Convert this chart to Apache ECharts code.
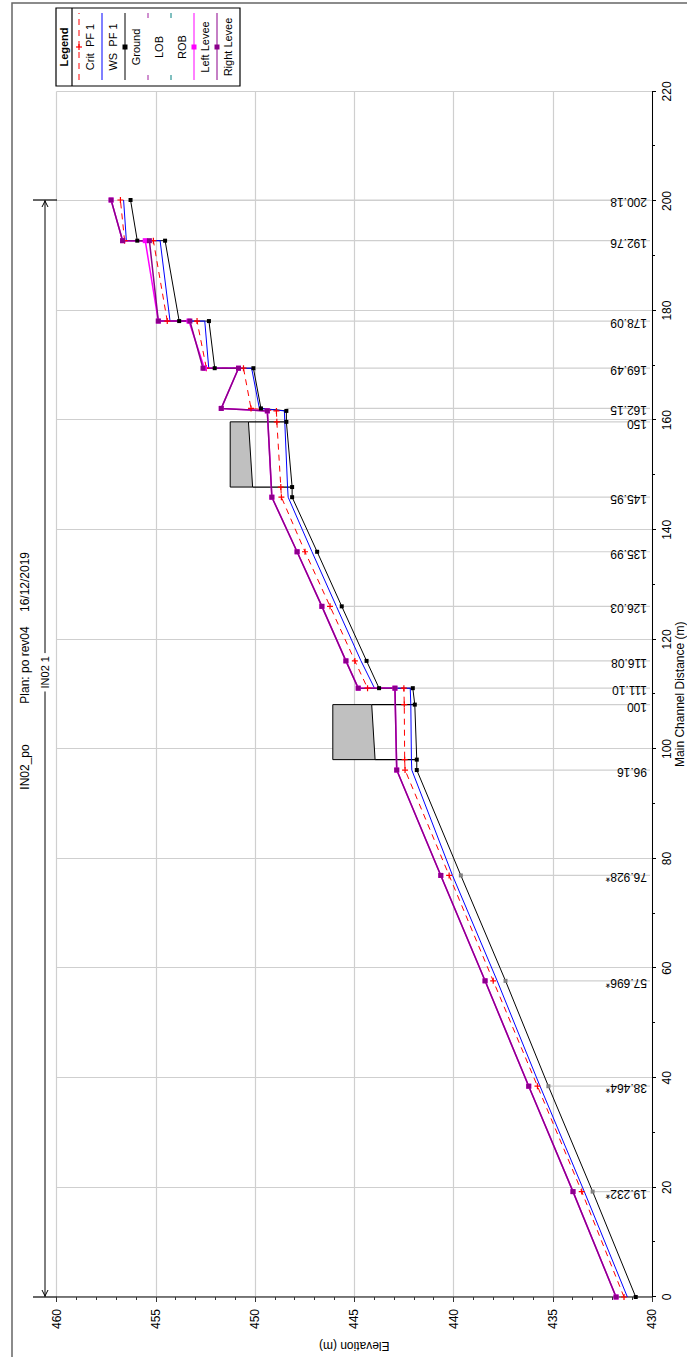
<!DOCTYPE html>
<html>
<head>
<meta charset="utf-8">
<title>IN02_po profile</title>
<script src="https://cdn.jsdelivr.net/npm/echarts@6/dist/echarts.min.js"></script>
<style>
  html, body { margin: 0; padding: 0; background: #fff; width: 687px; height: 1357px; overflow: hidden; }
  /* the profile is laid out landscape and turned a quarter turn to fit the portrait page */
  #page { position: absolute; left: 0; top: 0; width: 1357px; height: 687px;
          transform-origin: 0 0; transform: translate(0, 1357px) rotate(-90deg); background: #fff; }
</style>
</head>
<body>
<div id="page"></div>
<script>
// ---- profile data (main channel distance in m, elevations in m) ----
const dist = [0, 19.232, 38.464, 57.696, 76.928, 96.16, 98.06, 108.1, 111.1, 111.1,
              116.08, 126.03, 135.99, 145.95, 147.8, 159.7, 161.7, 162.15, 169.49, 169.49,
              178.09, 178.09, 192.76, 192.76, 200.18];
const ground = [430.82, 432.99, 435.22, 437.38, 439.63, 441.85, 441.85, 441.95, 442.05, 443.75,
                444.38, 445.63, 446.87, 448.13, 448.13, 448.42, 448.42, 449.70, 450.08, 452.03,
                452.32, 453.82, 454.53, 455.93, 456.27];
const wsPF1 = [431.24, 433.41, 435.64, 437.80, 440.05, 442.10, 442.12, 442.15, 442.18, 443.98,
               444.66, 445.90, 447.13, 448.33, 448.36, 448.50, 448.52, 449.78, 450.17, 452.33,
               452.53, 454.28, 454.78, 456.48, 456.62];
const critPF1 = [431.41, 433.54, 435.77, 438.00, 440.22, 442.44, 442.46, 442.48, 442.50, 444.33,
                 444.97, 446.22, 447.48, 448.67, 448.70, 448.90, 448.92, 450.20, 450.58, 452.45,
                 452.92, 454.42, 455.12, 456.57, 456.78];
const leftLevee = [431.81, 433.98, 436.21, 438.41, 440.64, 442.86, null, null, 442.95, 444.80,
                   445.42, 446.63, 447.88, 449.15, null, null, 449.38, 451.70, 450.83, 452.55,
                   453.33, 454.87, 455.53, 456.67, 457.25];
const rightLevee = [431.81, 433.98, 436.21, 438.41, 440.64, 442.86, null, null, 442.95, 444.80,
                    445.42, 446.63, 447.88, 449.15, null, null, 449.38, 451.70, 450.83, 452.62,
                    453.28, 454.87, 455.32, 456.67, 457.25];
// interpolated cross sections (ground marker drawn grey)
const interpolatedIdx = [1, 2, 3, 4];

// bridges: downstream face, upstream face, high chord, low chord at each face
const bridgeDown = [98.06, 147.8];
const bridgeUp = [108.1, 159.7];
const highChord = [446.08, 451.25];
const lowChordDown = [443.95, 450.12];
const lowChordUp = [444.12, 450.33];

// river station labels and where they sit along the channel
const stationNames = ['19.232*', '38.464*', '57.696*', '76.928*', '96.16', '100', '111.10', '116.08',
                      '126.03', '135.99', '145.95', '150', '162.15', '169.49', '178.09', '192.76', '200.18'];
const stationDist = [19.232, 38.464, 57.696, 76.928, 96.16, 108.1, 111.1, 116.08,
                     126.03, 135.99, 145.95, 159.7, 162.15, 169.49, 178.09, 192.76, 200.18];

// reach
const reachName = 'IN02 1';
const reachStart = 0, reachEnd = 200.18, reachLabelAt = 114;

// axis ranges / ticks
const distMin = 0, distMax = 220, distStep = 20;
const elevMin = 430, elevMax = 460, elevStep = 5;

const titleParts = ['IN02_po', 'Plan: po rev04', '16/12/2019'];
const legendNames = ['Crit  PF 1', 'WS  PF 1', 'Ground', 'LOB', 'ROB', 'Left Levee', 'Right Levee'];

// ---- helpers ----
const FONT = '"Liberation Sans", Arial, Helvetica, sans-serif';
const pairs = arr => dist.map((d, i) => [d, arr[i] == null ? '-' : arr[i]]);
function groundAt(d) {
  let best = null;
  dist.forEach((x, i) => { if (Math.abs(x - d) < 0.6) best = best == null ? ground[i] : Math.min(best, ground[i]); });
  return best;
}
const PLUS = 'path://M2,0H3V2H5V3H3V5H2V3H0V2H2Z';

const chart = echarts.init(document.getElementById('page'), null, { renderer: 'svg', width: 1357, height: 687 });

const groundData = dist.map((d, i) => ({
  value: [d, ground[i]],
  itemStyle: { color: interpolatedIdx.includes(i) ? '#808080' : '#000' }
}));

const option = {
  animation: false,
  backgroundColor: '#fff',
  textStyle: { fontFamily: FONT },
  grid: { left: 60, right: 91.4, top: 56.5, bottom: 35, containLabel: false, outerBoundsMode: 'none' },
  xAxis: {
    type: 'value', min: distMin, max: distMax, interval: distStep,
    name: 'Main Channel Distance (m)', nameLocation: 'middle', nameGap: 22, nameMoveOverlap: false,
    nameTextStyle: { color: '#000', fontSize: 12, fontFamily: FONT },
    axisLine: { show: true, onZero: false, lineStyle: { color: '#000', width: 1 } },
    axisTick: { show: true, length: 4, lineStyle: { color: '#000' } },
    minorTick: { show: true, splitNumber: 2, length: 3, lineStyle: { color: '#000' } },
    axisLabel: { color: '#000', fontSize: 12, margin: 9, fontFamily: FONT },
    splitLine: { show: true, lineStyle: { color: '#cfcfcf', width: 1.2 } }
  },
  yAxis: {
    type: 'value', min: elevMin, max: elevMax, interval: elevStep,
    name: 'Elevation (m)', nameLocation: 'middle', nameGap: 38,
    nameTextStyle: { color: '#000', fontSize: 12, fontFamily: FONT },
    axisLine: { show: true, onZero: false, lineStyle: { color: '#555', width: 1.5 } },
    axisTick: { show: true, length: 5, lineStyle: { color: '#333' } },
    minorTick: { show: true, splitNumber: 5, length: 3, lineStyle: { color: '#333' } },
    axisLabel: { color: '#000', fontSize: 12, margin: 12, fontFamily: FONT },
    splitLine: { show: true, lineStyle: { color: '#cfcfcf', width: 1.2 } }
  },
  series: [
    {
      // river station leader lines and labels
      type: 'custom', name: 'stations', silent: true,
      data: stationDist.map(d => [d, groundAt(d)]),
      renderItem(params, api) {
        const d = api.value(0), g = api.value(1);
        const top = api.coord([d, g]);
        const base = api.coord([d, elevMin]);
        return {
          type: 'group', children: [
            { type: 'line', shape: { x1: top[0], y1: top[1], x2: base[0], y2: base[1] - 2 },
              style: { stroke: '#cfcfcf', lineWidth: 1.2 } },
            { type: 'text', x: top[0] + 4, y: base[1] - 5, rotation: Math.PI / 2,
              style: { text: stationNames[params.dataIndex], fill: '#000', font: '12px ' + FONT,
                       align: 'left', verticalAlign: 'bottom' } }
          ]
        };
      }
    },
    {
      // bridge decks and openings
      type: 'custom', name: 'bridges', silent: true,
      data: bridgeDown.map((d, i) => [d, bridgeUp[i], highChord[i], lowChordDown[i], lowChordUp[i],
                                       groundAt(d), groundAt(bridgeUp[i])]),
      renderItem(params, api) {
        const dn = api.value(0), up = api.value(1), hi = api.value(2);
        const ld = api.value(3), lu = api.value(4), gd = api.value(5), gu = api.value(6);
        const p = (d, e) => api.coord([d, e]);
        return {
          type: 'group', children: [
            { type: 'polygon', shape: { points: [p(dn, hi), p(up, hi), p(up, lu), p(dn, ld)] },
              style: { fill: '#c0c0c0', stroke: '#000', lineWidth: 1 } },
            { type: 'polyline', shape: { points: [p(dn, ld), p(dn, gd)] },
              style: { stroke: '#000', lineWidth: 1.2, fill: null } },
            { type: 'polyline', shape: { points: [p(up, lu), p(up, gu)] },
              style: { stroke: '#000', lineWidth: 1.2, fill: null } }
          ]
        };
      }
    },
    {
      name: 'Ground', type: 'line', data: groundData,
      symbol: 'rect', symbolSize: 4, showAllSymbol: true,
      lineStyle: { color: '#000', width: 1 }, itemStyle: { color: '#000' }
    },
    {
      name: 'WS  PF 1', type: 'line', data: pairs(wsPF1), showSymbol: false,
      lineStyle: { color: '#0000ff', width: 1 }
    },
    {
      name: 'Crit  PF 1', type: 'line', data: pairs(critPF1),
      symbol: PLUS, symbolSize: 6, showAllSymbol: true,
      lineStyle: { color: '#ff0000', width: 1, type: [6, 5] }, itemStyle: { color: '#ff0000' }
    },
    {
      name: 'Left Levee', type: 'line', data: pairs(leftLevee), connectNulls: true,
      symbol: 'rect', symbolSize: 5, showAllSymbol: true,
      lineStyle: { color: '#ff00ff', width: 1.5 }, itemStyle: { color: '#ff00ff' }
    },
    {
      name: 'Right Levee', type: 'line', data: pairs(rightLevee), connectNulls: true,
      symbol: 'rect', symbolSize: 5, showAllSymbol: true,
      lineStyle: { color: '#8b008b', width: 1.5 }, itemStyle: { color: '#8b008b' }
    }
  ]
};
chart.setOption(option);

// ---- title, reach marker, legend and frame ----
const px = d => chart.convertToPixel({ gridIndex: 0 }, [d, elevMax])[0];
const reachY = 45;
const xs = px(reachStart), xe = px(reachEnd);
const titleX = [590, 692, 775];

const legendRowStyle = [
  { color: '#ff0000', dash: [6, 5], marker: 'plus' },
  { color: '#0000ff', dash: null, marker: null },
  { color: '#000000', dash: null, marker: 'rect' },
  { color: '#a020a0', dash: [5, 57], marker: null },
  { color: '#008080', dash: [5, 57], marker: null },
  { color: '#ff00ff', dash: null, marker: 'rect' },
  { color: '#8b008b', dash: null, marker: 'rect' }
];
const LG = { x: 1271, y: 56, w: 78, h: 184, head: 16, row: 23 };
const legendChildren = [
  { type: 'rect', shape: { x: LG.x, y: LG.y, width: LG.w, height: LG.h }, style: { fill: '#fff', stroke: '#000', lineWidth: 1.2 } },
  { type: 'line', shape: { x1: LG.x, y1: LG.y + LG.head, x2: LG.x + LG.w, y2: LG.y + LG.head }, style: { stroke: '#000', lineWidth: 1.2 } },
  { type: 'text', x: LG.x + LG.w / 2, y: LG.y + LG.head / 2, style: { text: 'Legend', font: 'bold 11px ' + FONT, fill: '#000', align: 'center', verticalAlign: 'middle' } }
];
legendNames.forEach((name, i) => {
  const s = legendRowStyle[i];
  const ly = LG.y + LG.head + 7 + i * LG.row;
  const cx = LG.x + LG.w / 2;
  legendChildren.push({ type: 'line', shape: { x1: LG.x + 6, y1: ly, x2: LG.x + LG.w - 5, y2: ly },
    style: { stroke: s.color, lineWidth: 1, lineDash: s.dash || null } });
  if (s.marker === 'rect') {
    legendChildren.push({ type: 'rect', shape: { x: cx - 2.5, y: ly - 2.5, width: 5, height: 5 }, style: { fill: s.color } });
  } else if (s.marker === 'plus') {
    legendChildren.push({ type: 'line', shape: { x1: cx - 3, y1: ly, x2: cx + 3, y2: ly }, style: { stroke: s.color, lineWidth: 1.2 } });
    legendChildren.push({ type: 'line', shape: { x1: cx, y1: ly - 3, x2: cx, y2: ly + 3 }, style: { stroke: s.color, lineWidth: 1.2 } });
  }
  legendChildren.push({ type: 'text', x: cx, y: ly + 11, style: { text: name, font: '11px ' + FONT, fill: '#000', align: 'center', verticalAlign: 'middle' } });
});

const graphics = [
  // outer frame
  { type: 'rect', shape: { x: -5, y: 12, width: 1359, height: 690 }, style: { fill: null, stroke: '#666', lineWidth: 1.5 }, silent: true },
  // title
  ...titleParts.map((t, i) => ({ type: 'text', x: titleX[i], y: 25,
    style: { text: t, font: '12px ' + FONT, fill: '#000', align: 'center', verticalAlign: 'middle' } })),
  // reach marker with end bars and arrowheads
  { type: 'line', shape: { x1: xs, y1: reachY, x2: xe, y2: reachY }, style: { stroke: '#000', lineWidth: 1 } },
  { type: 'line', shape: { x1: xs, y1: reachY - 12, x2: xs, y2: reachY + 12 }, style: { stroke: '#000', lineWidth: 1.2 } },
  { type: 'line', shape: { x1: xe, y1: reachY - 12, x2: xe, y2: reachY + 12 }, style: { stroke: '#000', lineWidth: 1.2 } },
  { type: 'polyline', shape: { points: [[xs + 7, reachY - 3], [xs + 1, reachY], [xs + 7, reachY + 3]] }, style: { stroke: '#000', lineWidth: 1, fill: null } },
  { type: 'polyline', shape: { points: [[xe - 7, reachY - 3], [xe - 1, reachY], [xe - 7, reachY + 3]] }, style: { stroke: '#000', lineWidth: 1, fill: null } },
  { type: 'text', x: px(reachLabelAt), y: reachY,
    style: { text: reachName, font: '11px ' + FONT, fill: '#000', align: 'center', verticalAlign: 'middle',
             backgroundColor: '#fff', padding: [1, 3] } },
  // legend
  { type: 'group', children: legendChildren }
];
chart.setOption({ graphic: graphics });
</script>
</body>
</html>
